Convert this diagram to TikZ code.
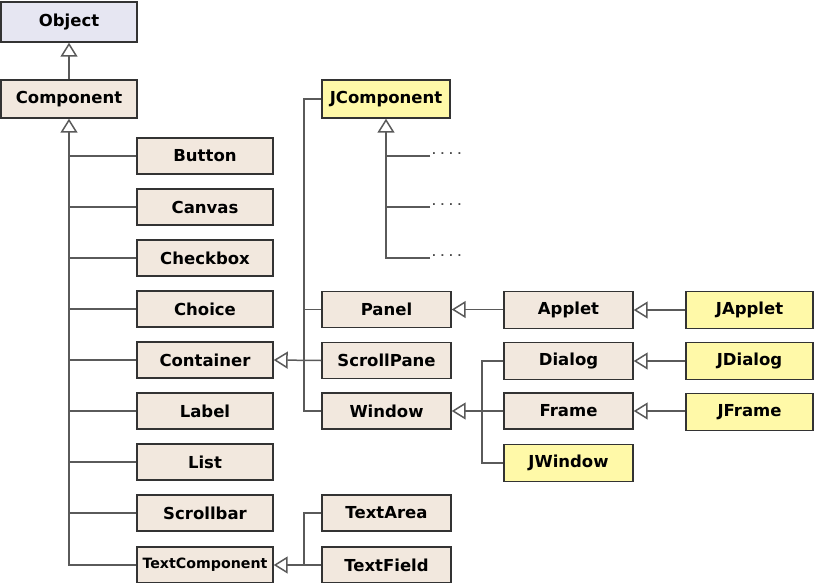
\documentclass[tikz,border=0pt]{standalone}
\usepackage{fontspec}
\newfontfamily\djv{DejaVu Sans}
\usetikzlibrary{arrows.meta}
\definecolor{boxline}{HTML}{333333}
\definecolor{conn}{HTML}{5A5A5A}
\definecolor{beige}{HTML}{F2E8DE}
\definecolor{lav}{HTML}{E6E6F2}
\definecolor{yel}{HTML}{FFF9A8}
\tikzset{
  cls/.style={draw=boxline, line width=1.4pt, fill=beige, inner sep=0pt,
    minimum width=136pt, minimum height=36pt, text=black,
    font=\djv\bfseries\fontsize{16.5}{19}\selectfont},
  sw/.style={cls, minimum width=129pt},
  swing/.style={fill=yel},
  conline/.style={draw=conn, line width=1.5pt},
  inh/.style={conline, -{Triangle[open, length=14pt, width=17pt, line width=1.5pt]}},
  trunk/.style={conline, line width=2.2pt},
  dotsnode/.style={inner sep=0pt, text=conn!80!black, font=\djv\bfseries\fontsize{10}{12}\selectfont, anchor=west}
}
\begin{document}
\begin{tikzpicture}[x=1pt, y=-1pt]
\useasboundingbox (0,0) rectangle (814,582);
% left column
\node[cls, fill=lav, minimum height=40pt] (obj) at (69,22) {Object};
\node[cls, minimum height=38pt] (comp) at (69,99) {Component};
\node[cls] (button) at (205,156) {Button};
\node[cls] (canvas) at (205,207) {Canvas};
\node[cls] (checkbox) at (205,258) {Checkbox};
\node[cls] (choice) at (205,309) {Choice};
\node[cls] (container) at (205,360) {Container};
\node[cls] (label) at (205,411) {Label};
\node[cls] (list) at (205,462) {List};
\node[cls] (scrollbar) at (205,513) {Scrollbar};
\node[cls, font=\djv\bfseries\fontsize{14.2}{16}\selectfont] (textcomp) at (205,565) {TextComponent};
% middle column
\node[sw, swing, minimum width=128pt, minimum height=38pt] (jcomp) at (386,99) {JComponent};
\node[sw] (panel) at (386.5,309.5) {Panel};
\node[sw] (scrollpane) at (386.5,360.5) {ScrollPane};
\node[sw] (window) at (386.5,411) {Window};
\node[sw] (textarea) at (386.5,513) {TextArea};
\node[sw] (textfield) at (386.5,565) {TextField};
% right columns
\node[sw, minimum height=37pt] (applet) at (568.5,310) {Applet};
\node[sw, minimum height=37pt] (dialog) at (568.5,361) {Dialog};
\node[sw] (frame) at (568.5,411) {Frame};
\node[sw, swing, minimum height=37pt] (jwindow) at (568.5,463) {JWindow};
\node[sw, swing, minimum width=127pt, minimum height=37pt] (japplet) at (749.5,310) {JApplet};
\node[sw, swing, minimum width=127pt, minimum height=37pt] (jdialog) at (749.5,361) {JDialog};
\node[sw, swing, minimum width=127pt, minimum height=37pt] (jframe) at (749.5,412) {JFrame};
% helper coordinates
\coordinate (cx) at (304,360);
\coordinate (wx) at (482,411);
\coordinate (tx) at (304,565);
\coordinate (d1) at (430,156);
\coordinate (d2) at (430,207);
\coordinate (d3) at (430,258);
% Object <- Component
\draw[inh] (comp) -- (obj);
% Component hierarchy
\draw[trunk] (comp.south |- textcomp.west) -- ([yshift=-14pt]comp.south);
\draw[inh] (textcomp.west) -| (comp.south);
\foreach \n in {button,canvas,checkbox,choice,container,label,list,scrollbar}
  \draw[conline] (\n.west) -- (\n.west -| comp.south);
% JComponent hierarchy
\draw[trunk] (d3 -| jcomp.south) -- ([yshift=-14pt]jcomp.south);
\draw[inh] (d3) -| (jcomp.south);
\draw[conline] (d1) -- (d1 -| jcomp.south);
\draw[conline] (d2) -- (d2 -| jcomp.south);
\node[dotsnode] (dt1) at (432,154) {. . . .};
\node[dotsnode] (dt2) at (432,205) {. . . .};
\node[dotsnode] (dt3) at (432,256) {. . . .};
% Container hierarchy
\draw[conline] (jcomp.west) -| (cx |- window.west) -- (window.west);
\draw[conline] (panel.west) -- (panel.west -| cx);
\draw[inh] (scrollpane.west) -- (container.east);
% Panel <- Applet
\draw[inh] (applet.west |- panel.east) -- (panel.east);
% Window hierarchy
\draw[conline] (dialog.west) -| (wx |- jwindow.west) -- (jwindow.west);
\draw[inh] (frame.west) -- (window.east);
% Swing top-level
\draw[inh] (japplet.west) -- (applet.east);
\draw[inh] (jdialog.west) -- (dialog.east);
\draw[inh] (jframe.west |- frame.east) -- (frame.east);
% TextComponent hierarchy
\draw[conline] (textarea.west) -| (tx);
\draw[inh] (textfield.west) -- (textcomp.east);
\end{tikzpicture}
\end{document}
